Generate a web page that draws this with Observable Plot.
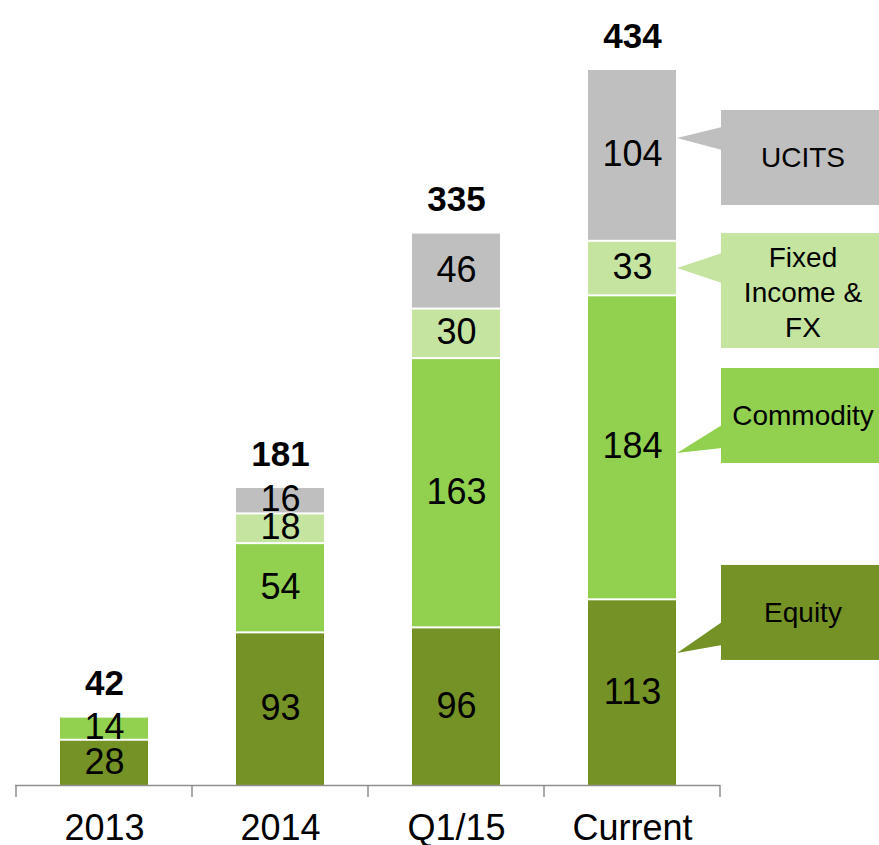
<!DOCTYPE html>
<html>
<head>
<meta charset="utf-8">
<script src="https://cdn.jsdelivr.net/npm/d3@7"></script>
<script src="https://cdn.jsdelivr.net/npm/@observablehq/plot@0.6"></script>
<style>
  html, body { margin: 0; padding: 0; background: #fff; overflow: hidden; }
  #chart svg { display: block; }
</style>
</head>
<body>
<div id="chart"></div>
<script>
// ---- data ----
const categories = ["2013", "2014", "Q1/15", "Current"];
const equity = [28, 93, 96, 113];
const commodity = [14, 54, 163, 184];
const fixedIncome = [0, 18, 30, 33];
const ucits = [0, 16, 46, 104];
const totals = [42, 181, 335, 434];
const seriesNames = ["Equity", "Commodity", "Fixed Income & FX", "UCITS"];
const seriesColors = ["#759226", "#92d050", "#c5e4a0", "#bfbfbf"];
const calloutText = [["Equity"], ["Commodity"], ["Fixed", "Income &", "FX"], ["UCITS"]];

// ---- table built from the arrays ----
const seriesValues = [equity, commodity, fixedIncome, ucits];
const rows = [];
seriesValues.forEach((vals, s) => vals.forEach((v, i) => {
  if (v > 0) rows.push({category: categories[i], series: seriesNames[s], value: v});
}));
const totalRows = categories.map((c, i) => ({category: c, total: totals[i]}));

// callout geometry in y-data units (box top/bottom, pointer tip, pointer base)
const calloutGeom = [
  {top: 133.2, bottom: 75.7, tip: 79.9, b1: 98.7, b2: 84.7},
  {top: 252.4, bottom: 194.9, tip: 201.0, b1: 217.9, b2: 204.0},
  {top: 334.1, bottom: 264.5, tip: 312.9, b1: 322.0, b2: 303.9},
  {top: 408.6, bottom: 351.1, tip: 391.6, b1: 398.3, b2: 384.4}
];

const W = 879, H = 845;

function decorations(index, scales, values, dimensions) {
  const x = scales.x, y = scales.y;
  const bw = x.bandwidth();
  const step = x.step();
  const g = d3.create("svg:g");
  // axis tick marks at category boundaries
  const bounds = categories.map(c => x(c) + bw / 2 - step / 2);
  bounds.push(x(categories[categories.length - 1]) + bw / 2 + step / 2);
  const y0 = y(0);
  g.selectAll("line.tk").data(bounds).join("line")
    .attr("x1", d => d).attr("x2", d => d)
    .attr("y1", y0).attr("y2", y0 + 12)
    .attr("stroke", "#8f8f8f").attr("stroke-width", 1.5);
  // callouts next to the last bar
  const last = categories[categories.length - 1];
  const right = x(last) + bw;
  const boxLeft = right + 45;
  const boxW = dimensions.width - boxLeft;
  calloutGeom.forEach((c, s) => {
    const col = seriesColors[s];
    g.append("rect")
      .attr("x", boxLeft).attr("y", y(c.top))
      .attr("width", boxW).attr("height", y(c.bottom) - y(c.top))
      .attr("fill", col);
    g.append("path")
      .attr("d", `M${right + 1},${y(c.tip)}L${boxLeft + 1},${y(c.b1)}L${boxLeft + 1},${y(c.b2)}Z`)
      .attr("fill", col);
    const lines = calloutText[s];
    const cy = (y(c.top) + y(c.bottom)) / 2 + (lines.length > 1 ? 2 : 0);
    const lh = 35;
    lines.forEach((t, k) => {
      g.append("text")
        .attr("x", boxLeft + 82)
        .attr("y", cy + (k - (lines.length - 1) / 2) * lh)
        .attr("dy", "0.35em")
        .attr("text-anchor", "middle")
        .attr("font-size", 28)
        .attr("fill", "#000")
        .text(t);
    });
  });
  return g.node();
}

const chart = Plot.plot({
  width: W,
  height: H,
  marginLeft: 15,
  marginRight: 159,
  marginTop: 68,
  marginBottom: 60,
  style: {fontFamily: "'Liberation Sans', Arial, sans-serif", fontSize: "36px", background: "#fff"},
  x: {domain: categories, paddingInner: 0.5, paddingOuter: 0.25, tickSize: 0, tickPadding: 29, label: null},
  y: {domain: [0, 434], axis: null},
  color: {domain: seriesNames, range: seriesColors},
  marks: [
    Plot.barY(rows, {x: "category", y: "value", fill: "series", insetTop: 2}),
    Plot.text(rows, Plot.stackY({x: "category", y: "value", text: d => String(d.value), fontSize: 36, fill: "#000"})),
    Plot.text(totalRows, {x: "category", y: "total", text: d => String(d.total), dy: -32, fontSize: 35, fontWeight: "bold", fill: "#000"}),
    Plot.ruleY([0], {stroke: "#8f8f8f", strokeWidth: 1.5}),
    decorations
  ]
});
document.getElementById("chart").appendChild(chart);
</script>
</body>
</html>
